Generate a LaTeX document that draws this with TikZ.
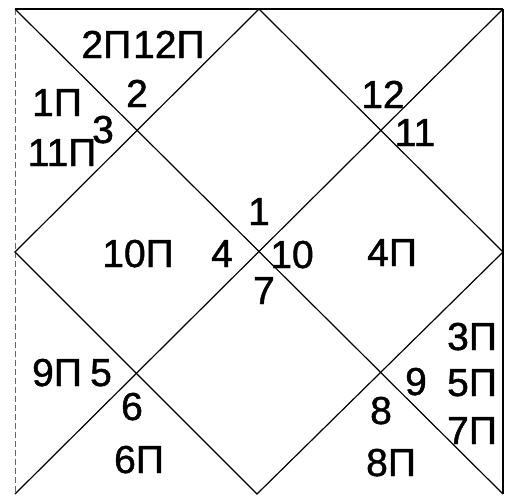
\documentclass[tikz,border=0pt]{standalone}
\usepackage{fontspec}
\setmainfont{Liberation Sans}[FakeBold=1.2]
\begin{document}
\begin{tikzpicture}[x=1pt,y=-1pt,
  chartline/.style={line width=1.2pt,black},
  edge/.style={line width=1.6pt,black},
  faint/.style={line width=0.8pt,black!60,dash pattern=on 6pt off 3pt},
  lbl/.style={inner sep=0pt,anchor=base,font=\fontsize{39}{39}\selectfont}]
\useasboundingbox (0,0) rectangle (505,496);
% corners and midpoints
\coordinate (TL) at (15,9);
\coordinate (TR) at (503,9);
\coordinate (BR) at (503,494);
\coordinate (BL) at (15,494);
\coordinate (MT) at (259,9);
\coordinate (MR) at (503,252);
\coordinate (MB) at (257,494);
\coordinate (ML) at (15,252);
% frame
\draw[edge] (TL) -- (TR);
\draw[chartline] (TR) -- (BR);
\draw[faint] (TL) -- (BL);
% diagonals and diamond
\draw[chartline] (TL) -- (BR);
\draw[chartline] (TR) -- (BL);
\draw[chartline] (MT) -- (MR) -- (MB) -- (ML) -- cycle;
% labels (base = centre + 14)
\node[lbl] (t1) at (143,58) {2П\hspace{2pt}12П};
\node[lbl] (t2) at (137,107) {2};
\node[lbl] (t3) at (57,116) {1П};
\node[lbl] (t4) at (62,166) {11П};
\node[lbl] (t5) at (103,143) {3};
\node[lbl] (t6) at (383,108) {12};
\node[lbl] (t7) at (415,146) {11};
\node[lbl] (t8) at (259,225) {1};
\node[lbl] (t9) at (138,267) {10П};
\node[lbl] (t10) at (222,267) {4};
\node[lbl] (t11) at (292,268) {10};
\node[lbl] (t12) at (392,266) {4П};
\node[lbl] (t13) at (264,304) {7};
\node[lbl] (t14) at (57,386) {9П};
\node[lbl] (t15) at (101,386) {5};
\node[lbl] (t16) at (132,420) {6};
\node[lbl] (t17) at (139,473) {6П};
\node[lbl] (t18) at (472,350) {3П};
\node[lbl] (t19) at (416,395) {9};
\node[lbl] (t20) at (472,396) {5П};
\node[lbl] (t21) at (472,444) {7П};
\node[lbl] (t22) at (381,424) {8};
\node[lbl] (t23) at (391,476) {8П};
\end{tikzpicture}
\end{document}
